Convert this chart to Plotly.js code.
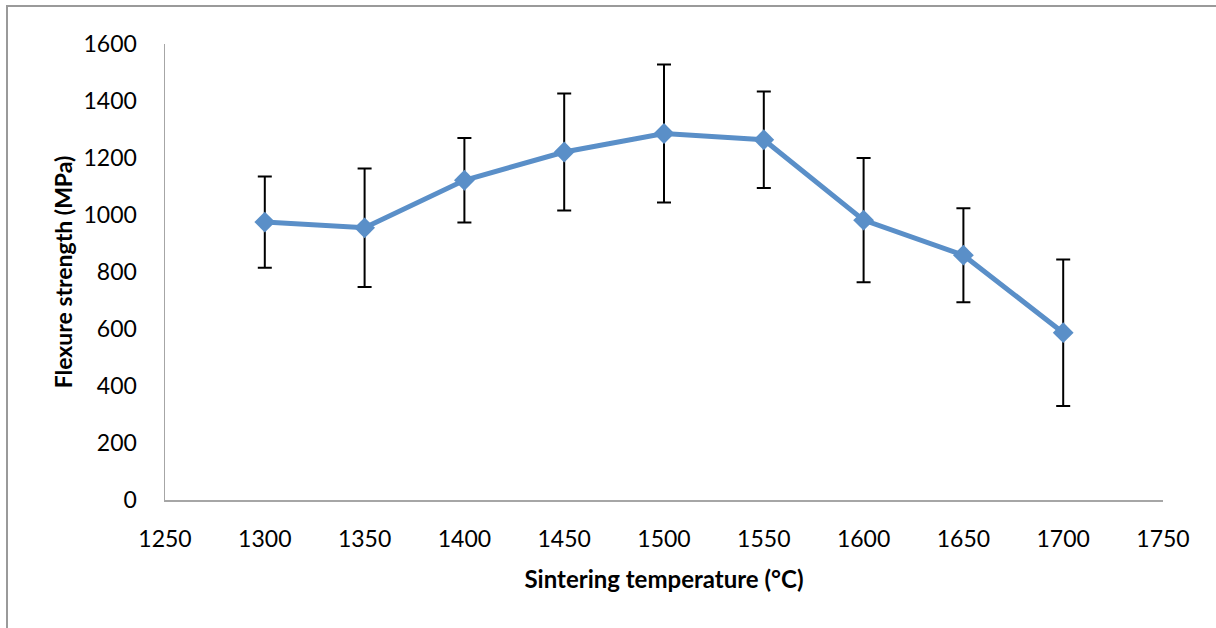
<!DOCTYPE html>
<html>
<head>
<meta charset="utf-8">
<script src="https://cdn.plot.ly/plotly-3.0.1.min.js"></script>
<style>
  html, body { margin: 0; padding: 0; background: #fff; }
  #wrap { position: relative; width: 1216px; height: 628px; overflow: hidden; }
  #chart { position: absolute; left: 0; top: 0; width: 1216px; height: 628px; }
  #frame { position: absolute; left: 6px; top: 5px; width: 1300px; height: 700px;
           border-left: 2px solid #9a9a9a; border-top: 2px solid #9a9a9a; pointer-events: none; }
</style>
</head>
<body>
<div id="wrap">
  <div id="chart"></div>
  <div id="frame"></div>
</div>
<script>
const temperatures = [1300, 1350, 1400, 1450, 1500, 1550, 1600, 1650, 1700];
const strength = [975, 955, 1122, 1221, 1286, 1264, 982, 859, 587];
const strengthError = [160, 208, 148, 205, 242, 169, 218, 165, 257];
const xTicks = [1250, 1300, 1350, 1400, 1450, 1500, 1550, 1600, 1650, 1700, 1750];
const yTicks = [0, 200, 400, 600, 800, 1000, 1200, 1400, 1600];

const trace = {
  x: temperatures,
  y: strength,
  type: 'scatter',
  mode: 'lines+markers',
  line: { color: '#5a8fc8', width: 5 },
  marker: { symbol: 'diamond', size: 16, color: '#5a8fc8' },
  error_y: { type: 'data', array: strengthError, visible: true, color: '#000000', thickness: 2, width: 7 },
  showlegend: false,
  cliponaxis: false
};

const font = { family: 'Lato, "Open Sans", sans-serif', color: '#000000' };

const layout = {
  width: 1216, height: 628,
  margin: { l: 165, r: 53, t: 43.5, b: 128 },
  paper_bgcolor: '#ffffff', plot_bgcolor: '#ffffff',
  font: font,
  xaxis: {
    range: [1250, 1750],
    tickvals: xTicks,
    ticktext: xTicks.map(String),
    showgrid: false, zeroline: false,
    showline: true, linecolor: '#a6a6a6', linewidth: 1.5,
    ticks: '',
    ticklabelstandoff: 18,
    tickfont: { family: font.family, size: 23, color: '#000' },
    title: { text: 'Sintering temperature (°C)', font: { family: font.family, size: 24, color: '#000', weight: 'bold' }, standoff: 20 }
  },
  yaxis: {
    range: [0, 1600],
    tickvals: yTicks,
    ticktext: yTicks.map(String),
    showgrid: false, zeroline: false,
    showline: true, linecolor: '#a6a6a6', linewidth: 1.5,
    ticks: '',
    ticklabelstandoff: 22,
    tickfont: { family: font.family, size: 23, color: '#000' },
    title: { text: 'Flexure strength (MPa)', font: { family: font.family, size: 23, color: '#000', weight: 'bold' }, standoff: 4 }
  }
};

Plotly.newPlot('chart', [trace], layout, { displayModeBar: false, staticPlot: true });
</script>
</body>
</html>
